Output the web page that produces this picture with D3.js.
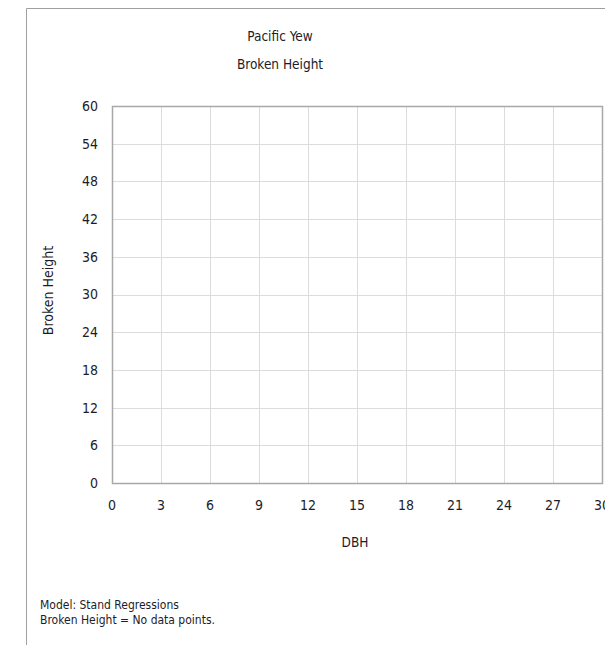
<!DOCTYPE html>
<html><head><meta charset="utf-8">
<script src="https://cdnjs.cloudflare.com/ajax/libs/d3/7.8.5/d3.min.js"></script>
<style>body{margin:0;background:#fff}svg{display:block}text{font-family:"DejaVu Sans Condensed","DejaVu Sans",sans-serif;font-stretch:condensed;fill:#1c1c2a}</style>
</head><body><script>
const titleLines = ["Pacific Yew", "Broken Height"];
const xTicks = [0, 3, 6, 9, 12, 15, 18, 21, 24, 27, 30];
const yTicks = [0, 6, 12, 18, 24, 30, 36, 42, 48, 54, 60];
const xLabel = "DBH";
const yLabel = "Broken Height";
const footerLines = ["Model: Stand Regressions", "Broken Height = No data points."];
const dataPoints = [];

const W = 605, H = 645;
const svg = d3.select("body").append("svg").attr("width", W).attr("height", H);
const m = {left: 112, top: 106, right: 602, bottom: 483};
const x = d3.scaleLinear().domain([0, 30]).range([m.left, m.right]);
const y = d3.scaleLinear().domain([0, 60]).range([m.bottom, m.top]);

// outer frame
svg.append("path").attr("d", `M26.5,${H} V8.5 H${W}`).attr("fill", "none").attr("stroke", "#a0a0a0").attr("stroke-width", 1);

// grid
svg.append("g").selectAll("line").data(xTicks).join("line")
  .attr("x1", d => Math.round(x(d)) + 0.5).attr("x2", d => Math.round(x(d)) + 0.5)
  .attr("y1", m.top).attr("y2", m.bottom).attr("stroke", "#dcdcdc");
svg.append("g").selectAll("line").data(yTicks).join("line")
  .attr("y1", d => Math.round(y(d)) + 0.5).attr("y2", d => Math.round(y(d)) + 0.5)
  .attr("x1", m.left).attr("x2", m.right).attr("stroke", "#dcdcdc");
// plot border
svg.append("rect").attr("x", m.left + 0.5).attr("y", m.top + 0.5)
  .attr("width", m.right - m.left).attr("height", m.bottom - m.top)
  .attr("fill", "none").attr("stroke", "#a8a8a8").attr("stroke-width", 1.5);

// axes labels
svg.append("g").selectAll("text").data(yTicks).join("text")
  .attr("x", 98).attr("y", d => y(d)).attr("dy", "0.35em")
  .attr("text-anchor", "end").attr("font-size", 14).text(d => d);
svg.append("g").selectAll("text").data(xTicks).join("text")
  .attr("x", d => x(d)).attr("y", 505).attr("dy", "0.35em")
  .attr("text-anchor", "middle").attr("font-size", 14).text(d => d);

// titles
svg.append("g").selectAll("text").data(titleLines).join("text")
  .attr("x", 280).attr("y", (d, i) => 36 + i * 28).attr("dy", "0.35em")
  .attr("text-anchor", "middle").attr("font-size", 13.5).text(d => d);
svg.append("text").attr("x", 355).attr("y", 542).attr("dy", "0.35em")
  .attr("text-anchor", "middle").attr("font-size", 13.5).text(xLabel);
svg.append("text").attr("transform", `translate(48,${(m.top + m.bottom) / 2 - 4}) rotate(-90)`)
  .attr("dy", "0.35em").attr("text-anchor", "middle").attr("font-size", 14).text(yLabel);

// footer
svg.append("g").selectAll("text").data(footerLines).join("text")
  .attr("x", 40).attr("y", (d, i) => 605 + i * 15).attr("dy", "0.35em")
  .attr("font-size", 12).text(d => d);

// data (none)
svg.append("g").selectAll("circle").data(dataPoints).join("circle")
  .attr("cx", d => x(d[0])).attr("cy", d => y(d[1])).attr("r", 3);
</script></body></html>
